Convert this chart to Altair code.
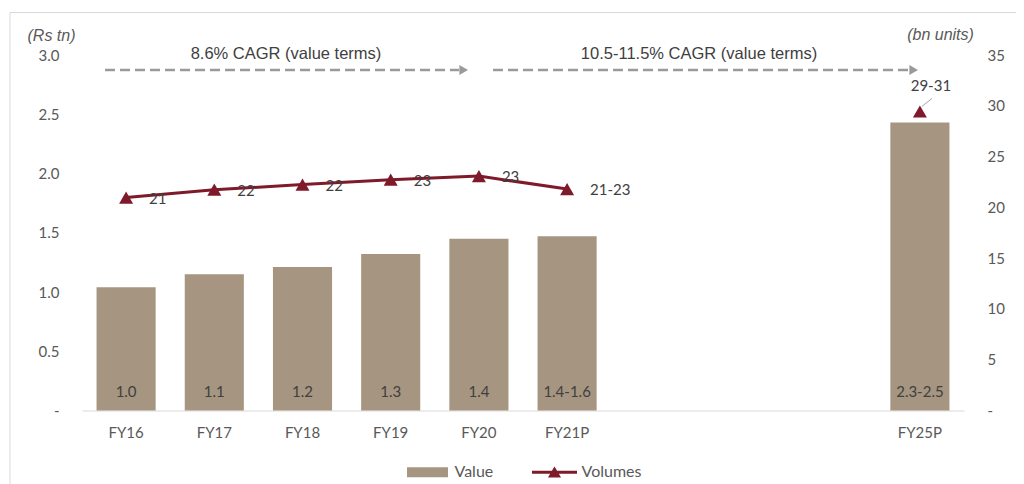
import json
import altair as alt
import pandas as pd

# ---------------- data ----------------
categories = ["FY16", "FY17", "FY18", "FY19", "FY20", "FY21P", "FY22P", "FY23P", "FY24P", "FY25P"]
hidden_categories = ["FY22P", "FY23P", "FY24P"]
value_tn = [1.04, 1.15, 1.21, 1.32, 1.45, 1.47, None, None, None, 2.43]
value_labels = ["1.0", "1.1", "1.2", "1.3", "1.4", "1.4-1.6", "", "", "", "2.3-2.5"]
volume_bn = [20.96, 21.74, 22.24, 22.73, 23.08, 21.80, None, None, None, 29.44]
volume_labels = ["21", "22", "22", "23", "23", "21-23", "", "", "", "29-31"]
series = ["Value", "Volumes"]
cagr_texts = ["8.6% CAGR (value terms)", "10.5-11.5% CAGR (value terms)"]
left_ticks = [0, 0.5, 1.0, 1.5, 2.0, 2.5, 3.0]
right_ticks = [0, 5, 10, 15, 20, 25, 30, 35]

# ---------------- styles ----------------
BAR = "#A69580"
RED = "#7E1A2A"
GREY_TXT = "#595959"
DARK_TXT = "#404040"
ARROW = "#9A9A9A"
FRAME = "#D9D9D9"
LABEL_FONT = "Lato"
NOTE_FONT = "Liberation Sans"

df = pd.DataFrame({
    "cat": categories,
    "value": value_tn,
    "value_label": value_labels,
    "volume": volume_bn,
    "volume_label": volume_labels,
})

hidden_js = json.dumps(hidden_categories)
x_enc = alt.X(
    "cat:N",
    sort=categories,
    scale=alt.Scale(domain=categories, paddingInner=0.33, paddingOuter=0.165),
    axis=alt.Axis(
        title=None, ticks=False, domain=True, domainColor=FRAME, domainWidth=1,
        labelFont=LABEL_FONT, labelFontSize=15, labelColor=GREY_TXT, labelPadding=15,
        labelAngle=0, grid=False,
        labelExpr=f"indexof({hidden_js}, datum.value) >= 0 ? '' : datum.value",
    ),
)

y_left_scale = alt.Scale(domain=[0, 3.0], nice=False, zero=True)
y_right_scale = alt.Scale(domain=[0, 35], nice=False, zero=True)

left_axis = alt.Axis(
    orient="left", values=left_ticks, grid=False, domain=False, ticks=False,
    labelFont=LABEL_FONT, labelFontSize=15, labelColor=GREY_TXT, labelPadding=23,
    labelExpr="datum.value == 0 ? '-\u00a0\u00a0' : format(datum.value, '.1f')",
    title="(Rs tn)", titleAngle=0, titleX=-31, titleY=-20, titleAlign="center",
    titleBaseline="middle", titleFont=NOTE_FONT, titleFontStyle="italic",
    titleFontWeight="normal", titleFontSize=16, titleColor=GREY_TXT,
)
right_axis = alt.Axis(
    orient="right", values=right_ticks, grid=False, domain=False, ticks=False,
    labelFont=LABEL_FONT, labelFontSize=15, labelColor=GREY_TXT, labelPadding=23,
    labelExpr="datum.value == 0 ? '-' : format(datum.value, 'd')",
    title="(bn units)", titleAngle=0, titleX=-24, titleY=-21, titleAlign="center",
    titleBaseline="middle", titleFont=NOTE_FONT, titleFontStyle="italic",
    titleFontWeight="normal", titleFontSize=16, titleColor=GREY_TXT,
)

base = alt.Chart(df)

bars = base.transform_filter("isValid(datum.value)").mark_bar(color=BAR).encode(
    x=x_enc,
    y=alt.Y("value:Q", scale=y_left_scale, axis=left_axis),
)
bar_text = base.transform_filter("isValid(datum.value)").mark_text(
    font=LABEL_FONT, fontSize=15, color=DARK_TXT, baseline="middle", dy=-19
).encode(
    x=x_enc,
    y=alt.YDatum(0, scale=y_left_scale),
    text="value_label:N",
)
left_layer = alt.layer(bars, bar_text)

line = base.transform_filter("isValid(datum.volume) && datum.cat != 'FY25P'").mark_line(
    color=RED, strokeWidth=3
).encode(
    x=x_enc,
    y=alt.Y("volume:Q", scale=y_right_scale, axis=right_axis),
)
points = base.transform_filter("isValid(datum.volume)").mark_point(
    shape="triangle-up", filled=True, size=196, color=RED, opacity=1
).encode(
    x=x_enc,
    y=alt.Y("volume:Q", scale=y_right_scale, axis=right_axis),
)
vol_text = base.transform_filter("isValid(datum.volume) && datum.cat != 'FY25P'").mark_text(
    font=LABEL_FONT, fontSize=15, color=DARK_TXT, align="left", baseline="middle", dx=23, dy=1
).encode(
    x=x_enc,
    y=alt.Y("volume:Q", scale=y_right_scale, axis=right_axis),
    text="volume_label:N",
)
vol_text_last = base.transform_filter("datum.cat == 'FY25P'").mark_text(
    font=LABEL_FONT, fontSize=15, color=DARK_TXT, align="center", baseline="middle", dx=11, dy=-25
).encode(
    x=x_enc,
    y=alt.Y("volume:Q", scale=y_right_scale, axis=right_axis),
    text="volume_label:N",
)
leader = base.transform_filter("datum.cat == 'FY25P'").mark_rule(
    color="#A6A6A6", strokeWidth=1, xOffset=2, yOffset=-5, x2Offset=12, y2Offset=-13
).encode(
    x=x_enc,
    x2="cat:N",
    y=alt.Y("volume:Q", scale=y_right_scale, axis=right_axis),
    y2="volume:Q",
)
right_layer = alt.layer(line, points, vol_text, vol_text_last, leader)

# ---------- annotations (CAGR arrows) ----------
one = pd.DataFrame({"k": [0]})


def hrule(x1, x2, y, **kw):
    return alt.Chart(one).mark_rule(**kw).encode(
        x=alt.value(x1), x2=alt.value(x2), y=alt.value(y)
    )


def vrule(x, y1, y2, **kw):
    return alt.Chart(one).mark_rule(**kw).encode(
        x=alt.value(x), y=alt.value(y1), y2=alt.value(y2)
    )


def head(x, y):
    return alt.Chart(one).mark_point(
        shape="triangle-right", filled=True, size=100, color=ARROW, opacity=1
    ).encode(x=alt.value(x), y=alt.value(y))


def note(text, x, y):
    return alt.Chart(pd.DataFrame({"t": [text]})).mark_text(
        font=NOTE_FONT, fontSize=16.5, color=DARK_TXT, align="center", baseline="middle"
    ).encode(x=alt.value(x), y=alt.value(y), text="t:N")


arrow_style = dict(color=ARROW, strokeWidth=2.5, strokeDash=[10, 5])
annotations = [
    hrule(23, 377, 15, **arrow_style), head(381.7, 15), note(cagr_texts[0], 204, -1.5),
    hrule(411, 827, 15, **arrow_style), head(831.7, 15), note(cagr_texts[1], 617, -1),
    hrule(-72, 950, -42.5, color=FRAME, strokeWidth=1),
    vrule(-72, -42.5, 430, color=FRAME, strokeWidth=1),
]

# ---------- legend (drawn from the color/shape scales) ----------
value_path = "M-0.91,-0.22H0.91V0.22H-0.91Z"
volume_path = ("M-1,-0.067H-0.114L0,-0.26L0.114,-0.067H1V0.067H0.194L0.29,0.23"
               "H-0.29L-0.194,0.067H-1Z")
legend_def = alt.Legend(
    title=None, orient="none", legendX=323, legendY=394.5, direction="horizontal",
    symbolSize=2025, symbolStrokeWidth=0, labelFont=LABEL_FONT, labelFontSize=16,
    labelColor=GREY_TXT, labelOffset=4.5, columnPadding=38, padding=0,
)
legend_layer = alt.Chart(pd.DataFrame({"series": series})).transform_filter("false").mark_point(
    filled=True, opacity=1
).encode(
    color=alt.Color("series:N", scale=alt.Scale(domain=series, range=[BAR, RED]), legend=legend_def),
    shape=alt.Shape("series:N", scale=alt.Scale(domain=series, range=[value_path, volume_path]),
                    legend=legend_def),
)

chart = alt.layer(
    left_layer, right_layer, *annotations, legend_layer
).resolve_scale(
    y="independent"
).properties(
    width=882,
    height=355.5,
    padding={"left": 74, "top": 47, "right": 52, "bottom": 73.5},
    autosize=alt.AutoSizeParams(type="none"),
    background="white",
).configure_view(stroke=None)

chart.save("out.html", embed_options={"renderer": "svg", "actions": False})
